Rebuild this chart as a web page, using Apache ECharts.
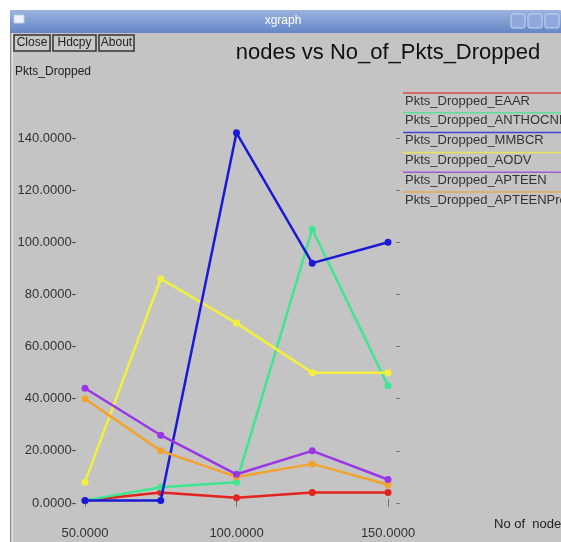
<!DOCTYPE html>
<html>
<head>
<meta charset="utf-8">
<script src="https://cdn.jsdelivr.net/npm/echarts@6/dist/echarts.min.js"></script>
<style>html,body{margin:0;padding:0;background:#fff;}#c{width:561px;height:542px;}</style>
</head>
<body>
<div id="c"></div>
<script>
// ---- data ----
const nodes = [50, 75, 100, 125, 150];
const seriesNames = ['Pkts_Dropped_EAAR', 'Pkts_Dropped_ANTHOCNET', 'Pkts_Dropped_MMBCR', 'Pkts_Dropped_AODV', 'Pkts_Dropped_APTEEN', 'Pkts_Dropped_APTEENPro'];
const eaar      = [1, 4, 2, 4, 4];
const anthocnet = [1, 6, 8, 105, 45];
const mmbcr     = [1, 1, 142, 92, 100];
const aodv      = [8, 86, 69, 50, 50];
const apteen    = [44, 26, 11, 20, 9];
const apteenPro = [40, 20, 10, 15, 7];
const xTicks = [50, 100, 150];
const yTicks = [0, 20, 40, 60, 80, 100, 120, 140];
const titleText = 'nodes vs No_of_Pkts_Dropped';
const yName = 'Pkts_Dropped';
const xName = 'No of  nodes';

const values = [eaar, anthocnet, mmbcr, aodv, apteen, apteenPro];
const colors = ['#e3231f', '#3fe691', '#1a1ad6', '#f2f03c', '#9a36e4', '#f2a32e'];
const FONT = '"Liberation Sans", Arial, sans-serif';

const chart = echarts.init(document.getElementById('c'), null, {renderer: 'canvas'});

const legendEls = [];
seriesNames.forEach((n, i) => {
  const ly = 93 + i * 19.8;
  legendEls.push({type: 'line', shape: {x1: 403, y1: ly, x2: 561, y2: ly}, style: {stroke: colors[i], lineWidth: 1.5, opacity: 0.75}, silent: true});
  legendEls.push({type: 'text', x: 405, y: ly + 8, style: {text: n, font: '13px ' + FONT, fill: '#333', textVerticalAlign: 'middle'}, silent: true});
});

function button(x, w, label) {
  return [
    {type: 'rect', shape: {x: x, y: 35, width: w, height: 16}, style: {fill: '#c8c8c8', stroke: '#333', lineWidth: 1.5}},
    {type: 'text', x: x + w / 2, y: 43, style: {text: label, font: '12px ' + FONT, fill: '#222', textAlign: 'center', textVerticalAlign: 'middle'}}
  ];
}

const option = {
  backgroundColor: '#c4c4c4',
  animation: false,
  grid: {left: 80, right: 161, top: 95, bottom: 20},
  xAxis: [
    {type: 'value', min: 48.35, max: 153.96, position: 'bottom',
     axisLine: {show: false}, splitLine: {show: false},
     axisTick: {show: true, inside: true, length: 4, customValues: xTicks, lineStyle: {color: '#666'}},
     axisLabel: {customValues: xTicks, formatter: v => v.toFixed(4), margin: 5, color: '#333', fontSize: 13, fontFamily: FONT}},
    {type: 'value', min: 48.35, max: 153.96, position: 'top',
     axisLine: {show: false}, splitLine: {show: false},
     axisTick: {show: true, inside: true, length: 4, customValues: xTicks, lineStyle: {color: '#777'}},
     axisLabel: {show: false}}
  ],
  yAxis: [
    {type: 'value', min: -7.29, max: 156.5, position: 'left',
     axisLine: {show: false}, splitLine: {show: false}, axisTick: {show: false},
     axisLabel: {customValues: yTicks, formatter: v => v.toFixed(4) + '-', margin: 4, color: '#333', fontSize: 13, fontFamily: FONT}},
    {type: 'value', min: -7.29, max: 156.5, position: 'right',
     axisLine: {show: false}, splitLine: {show: false},
     axisTick: {show: true, inside: true, length: 4, customValues: yTicks, lineStyle: {color: '#777'}},
     axisLabel: {show: false}}
  ],
  series: seriesNames.map((n, i) => ({
    name: n, type: 'line', xAxisIndex: 0, yAxisIndex: 0,
    data: nodes.map((x, j) => [x, values[i][j]]),
    symbol: 'circle', symbolSize: 7,
    lineStyle: {color: colors[i], width: 2.5},
    itemStyle: {color: colors[i]},
    z: [2, 3, 5, 4, 6, 5][i]
  })),
  graphic: [
    {type: 'rect', shape: {x: 0, y: 0, width: 561, height: 10}, style: {fill: '#ffffff'}, silent: true},
    {type: 'rect', shape: {x: 0, y: 0, width: 10, height: 542}, style: {fill: '#ffffff'}, silent: true},
    {type: 'rect', shape: {x: 10, y: 10, width: 551, height: 23, r: [3, 3, 0, 0]},
     style: {fill: new echarts.graphic.LinearGradient(0, 0, 0, 1, [{offset: 0, color: '#9bb3df'}, {offset: 1, color: '#6586c6'}])}, silent: true},
    {type: 'text', x: 283, y: 21, style: {text: 'xgraph', font: '12px ' + FONT, fill: '#ffffff', textAlign: 'center', textVerticalAlign: 'middle'}, silent: true},
    {type: 'rect', shape: {x: 14, y: 15, width: 10, height: 8}, style: {fill: '#eef2fa', stroke: '#c0cde8', lineWidth: 1}, silent: true},
    {type: 'rect', shape: {x: 511, y: 14, width: 14, height: 14, r: 2}, style: {fill: '#8fa9dc', stroke: '#c8d6f0', lineWidth: 1}, silent: true},
    {type: 'rect', shape: {x: 528, y: 14, width: 14, height: 14, r: 2}, style: {fill: '#8fa9dc', stroke: '#c8d6f0', lineWidth: 1}, silent: true},
    {type: 'rect', shape: {x: 545, y: 14, width: 14, height: 14, r: 2}, style: {fill: '#8fa9dc', stroke: '#c8d6f0', lineWidth: 1}, silent: true},
    {type: 'line', shape: {x1: 10.5, y1: 33, x2: 10.5, y2: 542}, style: {stroke: '#8c8c8c', lineWidth: 1}, silent: true},
    {type: 'line', shape: {x1: 12.5, y1: 33, x2: 12.5, y2: 542}, style: {stroke: '#e6e6e6', lineWidth: 1}, silent: true},
    ...button(14, 36, 'Close'),
    ...button(53, 43, 'Hdcpy'),
    ...button(99, 35, 'About'),
    {type: 'text', x: 388, y: 53, style: {text: titleText, font: '22px ' + FONT, fill: '#111', textAlign: 'center', textVerticalAlign: 'middle'}, silent: true},
    {type: 'text', x: 15, y: 72, style: {text: yName, font: '12px ' + FONT, fill: '#222', textVerticalAlign: 'middle'}, silent: true},
    {type: 'text', x: 494, y: 524, style: {text: xName, font: '13px ' + FONT, fill: '#222', textVerticalAlign: 'middle'}, silent: true},
    ...legendEls
  ]
};
chart.setOption(option);
</script>
</body>
</html>
